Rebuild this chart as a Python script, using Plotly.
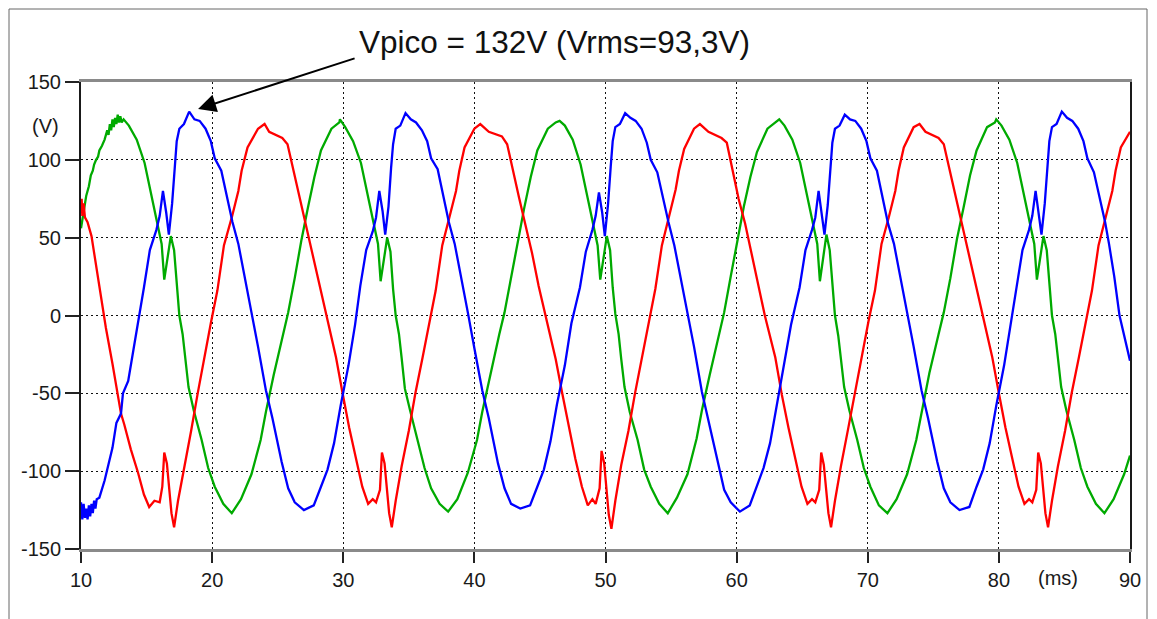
import plotly.graph_objects as go

# ---------------- data (time in ms, voltage in V) ----------------
x_ticks = [10, 20, 30, 40, 50, 60, 70, 80, 90]
y_ticks = [-150, -100, -50, 0, 50, 100, 150]

blue_t = [10.0, 10.1, 10.2, 10.3, 10.4, 10.5, 10.6, 10.7, 10.8, 10.9, 11.0, 11.1, 11.2, 11.4, 11.8, 12.0, 12.4, 12.7, 13.05, 13.2, 13.6, 14.0, 14.4,
          14.8, 15.25, 15.75, 16.0, 16.25, 16.5, 16.7, 16.95, 17.15, 17.3, 17.5, 17.85, 18.25, 18.65, 19.05, 19.5, 19.9, 20.2, 20.7, 21.2, 21.55, 22.0, 22.45, 23.0, 23.5, 24.1, 24.6, 25.3, 25.8, 26.3, 27.0, 27.75, 28.3, 28.8, 29.3, 29.8, 30.4, 30.9,
          31.3, 31.75, 32.25, 32.5, 32.75, 33.0, 33.2, 33.45, 33.65, 33.8, 34.0, 34.35, 34.75, 35.15, 35.55, 36.0, 36.4, 36.7, 37.2, 37.7, 38.05, 38.5, 38.95, 39.5, 40.0, 40.6, 41.1, 41.8, 42.3, 42.8, 43.5, 44.25, 44.8, 45.3, 45.8, 46.3, 46.9, 47.4,
          48.05, 48.5, 49.0, 49.25, 49.5, 49.75, 49.95, 50.2, 50.4, 50.55, 50.75, 51.1, 51.5, 51.9, 52.3, 52.75, 53.15, 53.45, 53.95, 54.45, 54.8, 55.25, 55.7, 56.25, 56.75, 57.35, 57.85, 58.55, 59.05, 59.55, 60.25, 61.0, 61.55, 62.05, 62.55, 63.05, 63.65, 64.15,
          64.8, 65.25, 65.75, 66.0, 66.25, 66.5, 66.7, 66.95, 67.15, 67.3, 67.5, 67.85, 68.25, 68.65, 69.05, 69.5, 69.9, 70.2, 70.7, 71.2, 71.55, 72.0, 72.45, 73.0, 73.5, 74.1, 74.6, 75.3, 75.8, 76.3, 77.0, 77.75, 78.3, 78.8, 79.3, 79.8, 80.4, 80.9,
          81.35, 81.8, 82.3, 82.55, 82.8, 83.05, 83.25, 83.5, 83.7, 83.85, 84.05, 84.4, 84.8, 85.2, 85.6, 86.05, 86.45, 86.75, 87.25, 87.75, 88.1, 88.4, 88.8, 89.2, 90.0]
blue_v = [-120, -131, -121, -130, -124, -131, -122, -129, -121, -127, -119, -124, -118, -117, -106, -99, -85, -69, -63, -50, -42, -22, -3,
          18, 42, 55, 64, 80, 66, 52, 72, 96, 112, 120, 123, 131, 126, 125, 120, 112, 101, 93, 74, 60, 46, 27, 2, -20, -48, -66, -94, -111, -120, -125, -122, -110, -99, -82, -58, -32, -6,
          19, 42, 54, 63, 80, 67, 52, 70, 95, 110, 120, 122, 130, 126, 124, 119, 112, 101, 94, 74, 60, 46, 27, 2, -21, -48, -66, -95, -111, -121, -124, -122, -110, -99, -81, -57, -32, -5,
          18, 41, 55, 64, 79, 66, 51, 72, 96, 112, 121, 123, 130, 127, 125, 120, 111, 100, 92, 73, 60, 45, 26, 1, -20, -49, -67, -94, -112, -120, -126, -122, -109, -98, -82, -58, -31, -6,
          18, 42, 55, 63, 80, 65, 52, 71, 96, 111, 120, 122, 129, 126, 125, 120, 112, 101, 93, 74, 59, 46, 27, 2, -20, -48, -66, -94, -111, -120, -125, -123, -110, -99, -82, -58, -32, -6,
          18, 42, 55, 64, 80, 66, 52, 72, 96, 112, 121, 123, 131, 127, 125, 120, 112, 101, 92, 74, 60, 46, 25, 0, -29]

green_t = [10.0, 10.2, 10.4, 10.6, 10.75, 10.9, 11.0, 11.15, 11.3, 11.4, 11.6, 11.8, 12.0, 12.1, 12.2, 12.3, 12.4, 12.5, 12.6, 12.7, 12.8, 12.9, 13.0, 13.1,
           13.25, 13.65, 14.25, 14.85, 15.45, 15.8, 16.15, 16.35, 16.6, 16.85, 17.1, 17.3, 17.5, 17.75, 17.95, 18.2, 18.6, 19.2, 19.7, 20.2, 20.85, 21.5, 22.2, 23.0, 23.7, 24.1, 24.7, 25.4, 25.8, 26.3, 26.8, 27.3, 27.8, 28.3, 29.1, 29.7,
           29.75, 30.15, 30.75, 31.35, 31.95, 32.3, 32.65, 32.85, 33.1, 33.35, 33.6, 33.8, 34.0, 34.25, 34.45, 34.7, 35.1, 35.7, 36.2, 36.7, 37.35, 38.0, 38.7, 39.5, 40.2, 40.6, 41.2, 41.9, 42.3, 42.8, 43.3, 43.8, 44.3, 44.8, 45.6, 46.2,
           46.5, 46.9, 47.5, 48.1, 48.7, 49.05, 49.4, 49.6, 49.85, 50.1, 50.35, 50.55, 50.75, 51.0, 51.2, 51.45, 51.85, 52.45, 52.95, 53.45, 54.1, 54.75, 55.45, 56.25, 56.95, 57.35, 57.95, 58.65, 59.05, 59.55, 60.05, 60.55, 61.05, 61.55, 62.35, 62.95,
           63.25, 63.65, 64.25, 64.85, 65.45, 65.8, 66.15, 66.35, 66.6, 66.85, 67.1, 67.3, 67.5, 67.75, 67.95, 68.2, 68.6, 69.2, 69.7, 70.2, 70.85, 71.5, 72.2, 73.0, 73.7, 74.1, 74.7, 75.4, 75.8, 76.3, 76.8, 77.3, 77.8, 78.3, 79.1, 79.7,
           79.8, 80.2, 80.8, 81.4, 82.0, 82.35, 82.7, 82.9, 83.15, 83.4, 83.65, 83.85, 84.05, 84.3, 84.5, 84.75, 85.15, 85.75, 86.25, 86.75, 87.4, 88.05, 88.75, 89.55, 90.0]
green_v = [56, 68, 77, 83, 90, 93, 97, 100, 102, 106, 109, 113, 119, 116, 123, 119, 126, 121, 127, 123, 129, 124, 128, 124,
           126, 122, 113, 98, 74, 61, 46, 23, 36, 51, 42, 18, 0, -12, -27, -46, -61, -80, -98, -110, -121, -127, -118, -102, -80, -62, -38, -12, 2, 24, 48, 69, 89, 106, 120, 124,
           126, 121, 112, 98, 74, 61, 46, 22, 35, 50, 41, 17, 0, -12, -27, -47, -61, -81, -98, -111, -121, -126, -118, -101, -80, -62, -38, -12, 2, 24, 48, 69, 89, 106, 120, 124,
           125, 122, 113, 97, 73, 60, 45, 23, 36, 51, 42, 18, 1, -12, -28, -46, -62, -80, -99, -110, -121, -127, -117, -102, -79, -61, -38, -12, 2, 25, 48, 70, 89, 105, 120, 124,
           126, 122, 113, 98, 74, 61, 46, 22, 36, 52, 42, 18, 0, -13, -27, -46, -61, -80, -98, -110, -122, -127, -118, -102, -80, -62, -37, -12, 2, 24, 49, 69, 90, 106, 121, 124,
           126, 122, 113, 98, 74, 61, 46, 23, 36, 51, 42, 18, 0, -12, -27, -46, -61, -80, -98, -110, -121, -127, -118, -102, -90]

red_t = [10.0, 10.05, 10.1, 10.2, 10.3, 10.5, 10.8, 11.15, 11.5, 11.9, 12.4, 12.8, 13.05, 13.3, 13.8, 14.35, 14.8, 15.2, 15.6, 16.0,
         16.2, 16.35, 16.55, 16.9, 17.1, 17.4, 17.9, 18.4, 18.9, 19.4, 19.9, 20.4, 20.9, 21.5, 22.0, 22.25, 22.7, 23.5, 24.0,
         24.35, 25.35, 25.75, 26.15, 26.65, 27.15, 27.65, 28.15, 28.65, 29.45, 29.95, 30.45, 30.95, 31.45, 31.9, 32.25, 32.5, 32.8, 32.95, 33.15, 33.5, 33.7, 34.0, 34.45, 35.0, 35.5, 36.05, 36.55, 37.05, 37.55, 38.1, 38.6, 38.85, 39.25, 40.0, 40.45,
         41.1, 42.1, 42.5, 42.9, 43.4, 43.9, 44.4, 44.9, 45.4, 46.2, 46.7, 47.2, 47.7, 48.2, 48.65, 49.0, 49.25, 49.55, 49.7, 49.9, 50.25, 50.45, 50.75, 51.2, 51.75, 52.25, 52.8, 53.3, 53.8, 54.3, 54.85, 55.35, 55.6, 56.0, 56.75, 57.2,
         57.85, 58.85, 59.25, 59.65, 60.15, 60.65, 61.15, 61.65, 62.15, 62.95, 63.45, 63.95, 64.45, 64.95, 65.4, 65.75, 66.0, 66.3, 66.45, 66.65, 67.0, 67.2, 67.5, 67.95, 68.5, 69.0, 69.55, 70.05, 70.55, 71.05, 71.6, 72.1, 72.35, 72.75, 73.5, 73.95,
         74.4, 75.4, 75.8, 76.2, 76.7, 77.2, 77.7, 78.2, 78.7, 79.5, 80.0, 80.5, 81.0, 81.5, 81.95, 82.3, 82.55, 82.85, 83.0, 83.2, 83.55, 83.75, 84.05, 84.5, 85.05, 85.55, 86.1, 86.6, 87.1, 87.6, 88.15, 88.65, 88.9, 89.3, 90.0]
red_v = [66, 75, 64, 72, 63, 60, 51, 32, 14, -8, -31, -50, -63, -70, -86, -101, -115, -123, -119, -120,
         -110, -88, -95, -127, -136, -119, -97, -74, -50, -27, -5, 16, 45, 63, 80, 93, 108, 120, 123,
         118, 114, 110, 95, 76, 59, 40, 20, 1, -27, -50, -72, -91, -110, -121, -118, -120, -112, -88, -95, -127, -136, -119, -97, -74, -50, -27, -5, 16, 45, 63, 80, 93, 108, 120, 123,
         118, 115, 110, 94, 76, 58, 40, 19, 1, -28, -50, -72, -92, -110, -122, -118, -121, -111, -87, -95, -128, -137, -119, -96, -74, -50, -26, -5, 17, 45, 63, 81, 93, 107, 120, 123,
         118, 114, 111, 95, 75, 59, 40, 20, 0, -27, -51, -72, -91, -110, -121, -118, -120, -112, -88, -96, -127, -136, -119, -97, -73, -50, -27, -4, 16, 46, 63, 80, 93, 108, 121, 123,
         118, 114, 110, 95, 76, 59, 40, 20, 1, -27, -50, -72, -91, -110, -121, -118, -120, -112, -88, -95, -127, -136, -119, -97, -74, -50, -27, -5, 16, 45, 63, 80, 93, 108, 118]

annotation_text = "Vpico = 132V (Vrms=93,3V)"
peak_point = (18.93, 132.7)

# ---------------- figure ----------------
# the page body has an 8 px margin, so the figure is drawn 8 px in from the window corner
OFF = 8
W, H = 1157 - OFF, 619 - OFF
L, T = 81 - OFF, 82 - OFF
R, B = 27, 70
pw, ph = W - L - R, H - T - B

def px_to_paper_x(px):
    return (px - OFF - L) / pw

def py_to_paper_y(py):
    return (H - B - (py - OFF)) / ph

fig = go.Figure()
line_w = 2.3
fig.add_trace(go.Scatter(x=green_t, y=green_v, mode="lines", line=dict(color="rgb(0,170,0)", width=line_w), hoverinfo="skip"))
fig.add_trace(go.Scatter(x=red_t, y=red_v, mode="lines", line=dict(color="rgb(255,0,0)", width=line_w), hoverinfo="skip"))
fig.add_trace(go.Scatter(x=blue_t, y=blue_v, mode="lines", line=dict(color="rgb(0,0,255)", width=line_w), hoverinfo="skip"))

tick_font = dict(family="Liberation Sans, Arial, sans-serif", size=20, color="#1a1a1a")

fig.update_layout(
    width=W, height=H,
    margin=dict(l=L, r=R, t=T, b=B, pad=0),
    paper_bgcolor="white", plot_bgcolor="white",
    showlegend=False,
    xaxis=dict(range=[10, 90], tickvals=x_ticks, ticktext=[str(v) for v in x_ticks],
               ticks="outside", ticklen=11, tickwidth=2, tickcolor="#222",
               showline=True, linecolor="#8a8a8a", linewidth=3, mirror=True,
               showgrid=True, gridcolor="#111", gridwidth=1, griddash="2px,3px",
               zeroline=False, tickfont=tick_font, ticklabelstandoff=0, fixedrange=True),
    yaxis=dict(range=[-150, 150], tickvals=y_ticks, ticktext=[str(v) for v in y_ticks],
               ticks="outside", ticklen=14, tickwidth=2, tickcolor="#222",
               showline=True, linecolor="#1a1a1a", linewidth=2, mirror=True,
               showgrid=True, gridcolor="#111", gridwidth=1, griddash="2px,3px",
               zeroline=False, tickfont=tick_font, ticklabelstandoff=0, fixedrange=True),
)

# outer thin frame of the picture (its bottom edge lies just outside the window)
fig.add_shape(type="rect", xref="paper", yref="paper",
              x0=px_to_paper_x(9), x1=px_to_paper_x(1147),
              y0=py_to_paper_y(622), y1=py_to_paper_y(9),
              line=dict(color="#666", width=1), fillcolor="rgba(0,0,0,0)", layer="below")

# unit labels
fig.add_annotation(xref="paper", yref="y", x=px_to_paper_x(45), y=122, text="(V)",
                   showarrow=False, font=tick_font, xanchor="center", yanchor="middle")
fig.add_annotation(xref="x", yref="paper", x=84.5, y=py_to_paper_y(578), text="(ms)",
                   showarrow=False, font=tick_font, xanchor="center", yanchor="middle")

# arrow pointing at the blue peak
fig.add_annotation(xref="x", yref="y", x=peak_point[0], y=peak_point[1], text="",
                   showarrow=True, arrowhead=2, arrowsize=1.8, arrowwidth=2, arrowcolor="black",
                   ax=158, ay=-51, standoff=0)
# annotation text
fig.add_annotation(xref="paper", yref="paper", x=px_to_paper_x(357), y=py_to_paper_y(42),
                   text=annotation_text, showarrow=False, xanchor="left", yanchor="middle",
                   font=dict(family="Liberation Sans, Arial, sans-serif", size=31.5, color="#111"))

fig.write_html("out.html")
